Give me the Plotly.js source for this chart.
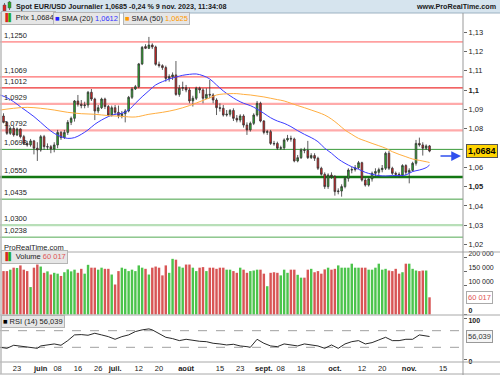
<!DOCTYPE html>
<html><head><meta charset="utf-8">
<script src="https://cdn.plot.ly/plotly-3.0.1.min.js"></script>
<style>html,body{margin:0;padding:0;background:#fff;}#chart{width:500px;height:375px;}</style>
</head><body><div id="chart"></div>
<script>
// ---------- DATA ----------
const startDate = '2023-05-17'; // first daily candle
const openP = [1.0866,1.0833,1.0776,1.0802,1.0768,1.0799,1.0759,1.0724,1.0716,1.0737,
 1.0699,1.0690,1.0759,1.0705,1.0707,1.0695,1.0716,1.0781,1.0754,1.0781,
 1.0833,1.0854,1.0944,1.0927,1.0920,1.0923,1.0989,1.0954,1.0892,1.0909,
 1.0954,1.0915,1.0871,1.0909,1.0885,1.0868,1.0878,1.0892,1.0963,1.1006,
 1.1018,1.1136,1.1226,1.1217,1.1234,1.1224,1.1134,1.1127,1.1117,1.1061,
 1.1070,1.1079,1.0978,1.1010,1.1013,1.1001,1.0944,1.0958,1.1010,1.1001,
 1.0958,1.0978,1.0975,1.0949,1.0909,1.0906,1.0871,1.0875,1.0895,1.0854,
 1.0845,1.0866,1.0819,1.0794,1.0828,1.0871,1.0932,1.0840,1.0781,1.0785,
 1.0724,1.0724,1.0699,1.0701,1.0742,1.0750,1.0747,1.0633,1.0650,1.0690,
 1.0688,1.0650,1.0661,1.0647,1.0595,1.0564,1.0500,1.0560,1.0552,1.0474,
 1.0477,1.0500,1.0543,1.0586,1.0588,1.0598,1.0624,1.0534,1.0508,1.0540,
 1.0569,1.0574,1.0588,1.0595,1.0673,1.0595,1.0569,1.0564,1.0560,1.0609,
 1.0574,1.0584,1.0621,1.0724,1.0716,1.0699,1.0711];
const highP = [1.0880,1.0840,1.0811,1.0816,1.0806,1.0802,1.0768,1.0737,1.0747,1.0742,
 1.0730,1.0768,1.0768,1.0724,1.0716,1.0730,1.0794,1.0788,1.0794,1.0845,
 1.0863,1.0949,1.0975,1.0949,1.0940,1.0996,1.1006,1.0961,1.0923,1.0961,
 1.0961,1.0923,1.0920,1.0923,1.0920,1.0892,1.0902,1.0970,1.1015,1.1027,
 1.1141,1.1229,1.1238,1.1276,1.1243,1.1231,1.1148,1.1134,1.1127,1.1082,
 1.1092,1.1151,1.1027,1.1044,1.1027,1.1013,1.0971,1.1018,1.1018,1.1010,
 1.1010,1.1053,1.0984,1.0958,1.0932,1.0923,1.0897,1.0902,1.0906,1.0871,
 1.0875,1.0875,1.0833,1.0837,1.0880,1.0944,1.0940,1.0845,1.0794,1.0794,
 1.0737,1.0733,1.0712,1.0750,1.0768,1.0764,1.0754,1.0664,1.0699,1.0702,
 1.0737,1.0673,1.0673,1.0655,1.0603,1.0574,1.0569,1.0574,1.0560,1.0491,
 1.0512,1.0552,1.0595,1.0602,1.0612,1.0633,1.0629,1.0546,1.0546,1.0578,
 1.0595,1.0598,1.0612,1.0681,1.0685,1.0603,1.0578,1.0574,1.0616,1.0616,
 1.0595,1.0629,1.0742,1.0754,1.0730,1.0719,1.0716];
const lowP = [1.0828,1.0768,1.0768,1.0759,1.0762,1.0750,1.0716,1.0707,1.0707,1.0667,
 1.0633,1.0681,1.0690,1.0690,1.0673,1.0678,1.0699,1.0742,1.0747,1.0768,
 1.0819,1.0837,1.0915,1.0906,1.0906,1.0909,1.0944,1.0845,1.0880,1.0902,
 1.0902,1.0863,1.0863,1.0871,1.0854,1.0854,1.0833,1.0885,1.0954,1.1001,
 1.1010,1.1130,1.1213,1.1213,1.1213,1.1127,1.1117,1.1105,1.1044,1.1044,
 1.1053,1.0971,1.0966,1.0996,1.0989,1.0932,1.0915,1.0949,1.0984,1.0932,
 1.0954,1.0958,1.0932,1.0871,1.0889,1.0863,1.0863,1.0863,1.0840,1.0833,
 1.0833,1.0806,1.0768,1.0785,1.0819,1.0863,1.0833,1.0771,1.0768,1.0716,
 1.0712,1.0690,1.0690,1.0690,1.0733,1.0733,1.0626,1.0626,1.0643,1.0673,
 1.0643,1.0643,1.0633,1.0586,1.0557,1.0488,1.0488,1.0540,1.0453,1.0460,
 1.0448,1.0491,1.0526,1.0569,1.0578,1.0591,1.0526,1.0500,1.0500,1.0526,
 1.0552,1.0552,1.0574,1.0586,1.0586,1.0560,1.0552,1.0546,1.0552,1.0560,
 1.0517,1.0578,1.0609,1.0707,1.0661,1.0690,1.0678];
const closeP = [1.0833,1.0776,1.0802,1.0768,1.0799,1.0759,1.0724,1.0716,1.0737,1.0699,
 1.0690,1.0759,1.0707,1.0707,1.0695,1.0716,1.0781,1.0754,1.0781,1.0833,
 1.0854,1.0944,1.0927,1.0920,1.0923,1.0989,1.0954,1.0892,1.0909,1.0954,
 1.0915,1.0871,1.0909,1.0885,1.0868,1.0878,1.0892,1.0963,1.1006,1.1018,
 1.1136,1.1222,1.1217,1.1234,1.1224,1.1134,1.1127,1.1117,1.1061,1.1070,
 1.1079,1.0978,1.1010,1.1013,1.1001,1.0944,1.0958,1.1010,1.1001,1.0958,
 1.0978,1.0975,1.0949,1.0909,1.0906,1.0871,1.0875,1.0895,1.0854,1.0845,
 1.0866,1.0819,1.0794,1.0828,1.0871,1.0932,1.0840,1.0781,1.0785,1.0724,
 1.0722,1.0699,1.0701,1.0742,1.0750,1.0747,1.0633,1.0650,1.0690,1.0688,
 1.0650,1.0661,1.0647,1.0595,1.0564,1.0500,1.0560,1.0552,1.0474,1.0477,
 1.0500,1.0543,1.0586,1.0588,1.0598,1.0624,1.0534,1.0508,1.0540,1.0569,
 1.0578,1.0588,1.0595,1.0673,1.0595,1.0569,1.0564,1.0560,1.0609,1.0574,
 1.0584,1.0621,1.0724,1.0716,1.0699,1.0711,1.0684];
const volume = [152000,152000,157000,164000,163000,172000,157000,152000,96000,164000,
 175000,168000,146000,151000,140000,146000,143000,135000,148000,158000,
 151000,157000,146000,160000,143000,174000,164000,164000,157000,164000,
 160000,160000,140000,105000,152000,164000,160000,152000,157000,152000,
 172000,164000,160000,140000,164000,168000,164000,137000,172000,146000,
 195000,192000,168000,164000,175000,175000,164000,152000,164000,166000,
 152000,164000,164000,160000,164000,164000,157000,157000,152000,146000,
 164000,157000,146000,152000,154000,157000,157000,143000,99000,146000,
 148000,146000,137000,157000,146000,157000,157000,139000,129000,129000,
 157000,160000,148000,152000,143000,158000,164000,157000,160000,172000,
 164000,164000,164000,178000,164000,164000,164000,164000,157000,157000,
 164000,178000,157000,160000,154000,152000,160000,143000,148000,178000,
 178000,160000,154000,152000,154000,154000,60017];
// SMA readings (candle index, value)
const sma20Idx = [-1,1,3,5,7,9,11,13,15,17,19,21,23,25,27,29,31,33,35,37,39,41,43,45,47,49,51,53,55,57,59,61,63,65,67,69,71,73,75,77,79,81,83,85,87,89,91,93,95,97,99,101,103,105,107,109,111,113,115,117,119,121,123,125,126];
const sma20 = [1.0975,1.0961,1.0940,1.0914,1.0889,1.0863,1.0833,1.0802,1.0776,1.0759,1.0750,1.0754,1.0771,1.0794,1.0823,1.0845,1.0863,1.0875,1.0880,1.0897,1.0932,1.0966,1.0997,1.1027,1.1044,1.1058,1.1068,1.1077,1.1082,1.1084,1.1075,1.1058,1.1027,1.0996,1.0971,1.0949,1.0932,1.0920,1.0902,1.0880,1.0857,1.0840,1.0828,1.0811,1.0790,1.0771,1.0754,1.0733,1.0699,1.0673,1.0643,1.0621,1.0603,1.0590,1.0574,1.0564,1.0557,1.0555,1.0557,1.0557,1.0560,1.0578,1.0586,1.0598,1.0612];
const sma50Idx = [-1,3,7,11,15,19,23,27,31,35,39,43,47,51,55,59,61,63,65,67,69,71,73,75,77,79,81,83,85,87,89,91,93,95,97,99,101,103,105,107,109,111,113,115,117,119,121,123,125,126];
const sma50 = [1.0897,1.0906,1.0911,1.0906,1.0897,1.0885,1.0878,1.0875,1.0868,1.0864,1.0861,1.0875,1.0885,1.0899,1.0920,1.0947,1.0960,1.0975,1.0980,1.0982,1.0982,1.0978,1.0975,1.0970,1.0965,1.0958,1.0951,1.0944,1.0932,1.0920,1.0909,1.0897,1.0885,1.0871,1.0850,1.0823,1.0793,1.0771,1.0750,1.0737,1.0724,1.0712,1.0699,1.0681,1.0667,1.0655,1.0643,1.0636,1.0629,1.0625];
const rsiIdx = [-1,1,3,5,7,9,10,11,13,15,17,19,21,23,25,27,29,31,33,35,37,39,41,43,44,46,48,50,52,54,56,58,60,62,64,66,68,70,72,73,75,77,79,81,83,85,87,89,91,93,95,97,99,101,103,105,107,109,111,113,115,117,119,121,123,125,126];
const rsi = [30.0,27.6,34.9,33.3,31.6,30.0,27.6,33.3,35.7,38.1,34.9,46.1,59.8,60.6,59.0,63.8,59.8,55.7,49.3,55.7,59.8,67.9,71.9,74.3,71.9,63.8,54.1,50.9,46.1,49.3,46.1,44.5,43.6,39.7,38.1,35.7,37.3,33.3,31.6,30.0,49.3,39.7,33.3,31.6,38.1,35.7,33.3,38.1,35.7,33.3,27.6,35.7,27.6,38.1,43.6,46.1,38.1,41.3,47.7,54.1,46.1,46.1,49.3,49.3,59.8,58.2,56.039];
const levels = [1.1250,1.1069,1.1012,1.0929,1.0792,1.0693,1.0550,1.0435,1.0300,1.0238];
const rsiLevels = [70, 30];
const priceTicks = [1.02,1.03,1.04,1.05,1.06,1.08,1.09,1.10,1.11,1.12,1.13];
const volTicks = [0,100000,150000,200000];
const rsiTicks = [0,100];
const tickDates = ['2023-05-23','2023-06-01','2023-06-08','2023-06-16','2023-06-26','2023-07-03','2023-07-12','2023-07-20','2023-08-01','2023-08-15','2023-08-23','2023-09-01','2023-09-08','2023-09-18','2023-10-02','2023-10-12','2023-10-20','2023-11-01','2023-11-15'];
const tickText = ['23','<b>juin</b>','08','16','26','<b>juil.</b>','12','20','<b>août</b>','15','23','<b>sept.</b>','08','18','<b>oct.</b>','12','20','<b>nov.</b>','15'];

// ---------- STYLES ----------
const levelStyles = [
 {c:'#ff5a5a',w:1},{c:'#ff6e6e',w:1.3},{c:'#ee3030',w:1.3},{c:'#ffaaaa',w:2.2},{c:'#ffaaaa',w:2.2},
 {c:'#3a9a3a',w:1},{c:'#137713',w:2.5},{c:'#44a044',w:1},{c:'#b8dfb8',w:2.2},{c:'#55aa55',w:1}];

// trading days (weekdays) from start date
const days = [];
{ let d = new Date(startDate + 'T00:00:00Z');
  while (days.length < 150) { const wd = d.getUTCDay(); if (wd !== 0 && wd !== 6) days.push(d.toISOString().slice(0,10)); d.setUTCDate(d.getUTCDate()+1); } }
const idx = openP.map((_, i) => i);
const tickVals = tickDates.map(s => days.indexOf(s));

const fmt = (v, d) => v.toFixed(d).replace('.', ',');
const fmtVol = v => String(Math.round(v)).replace(/\B(?=(\d{3})+(?!\d))/g, ' ');
const n = closeP.length - 1;

// pixel helpers for layout placement (plot area: x 0..463, y 13..362)
const px = x => x / 463;
const py = y => (362 - y) / 349;

const FONT = 'Liberation Sans, Arial, sans-serif';
const traces = [
 {type:'scatter', mode:'lines', x:sma20Idx, y:sma20, line:{color:'#3b3bff', width:1, shape:'spline'}, yaxis:'y', hoverinfo:'skip'},
 {type:'scatter', mode:'lines', x:sma50Idx, y:sma50, line:{color:'#ffae40', width:1, shape:'spline'}, yaxis:'y', hoverinfo:'skip'},
 {type:'candlestick', x:idx, open:openP, high:highP, low:lowP, close:closeP, yaxis:'y',
  increasing:{line:{color:'#333', width:0.8}, fillcolor:'#2cb52c'},
  decreasing:{line:{color:'#333', width:0.8}, fillcolor:'#e32222'}, whiskerwidth:0, hoverinfo:'skip'},
 {type:'bar', x:idx, y:volume, yaxis:'y2', width:0.72,
  marker:{color: idx.map(i => closeP[i] >= openP[i] ? '#4cc44c' : '#d85555'), line:{width:0}}, hoverinfo:'skip'},
 {type:'scatter', mode:'lines', x:rsiIdx, y:rsi, yaxis:'y3', line:{color:'#111', width:0.9}, hoverinfo:'skip'}
];

const shapes = [];
// header bar
shapes.push({type:'rect', xref:'paper', yref:'paper', x0:px(0), x1:px(500), y0:py(13), y1:py(0), fillcolor:'#d6e4ee', line:{width:0}, layer:'below'});
shapes.push({type:'line', xref:'paper', yref:'paper', x0:px(0), x1:px(500), y0:py(13), y1:py(13), line:{color:'#9db2c2', width:1}});
// panel separators
[252, 315, 362, 374].forEach(y => shapes.push({type:'line', xref:'paper', yref:'paper', x0:px(0), x1:px(500), y0:py(y), y1:py(y), line:{color:'#a8a8a8', width:1}}));
shapes.push({type:'line', xref:'paper', yref:'paper', x0:px(463), x1:px(463), y0:py(13), y1:py(375), line:{color:'#999', width:1}});
shapes.push({type:'line', xref:'paper', yref:'paper', x0:px(1), x1:px(1), y0:py(13), y1:py(374), line:{color:'#bbb', width:1.5}});
// support / resistance levels
levels.forEach((v, k) => shapes.push({type:'line', xref:'paper', yref:'y', x0:0, x1:1, y0:v, y1:v, line:{color:levelStyles[k].c, width:levelStyles[k].w}, layer:'below'}));
// RSI bands
rsiLevels.forEach(v => shapes.push({type:'line', xref:'paper', yref:'y3', x0:0, x1:1, y0:v, y1:v, line:{color:'#888', width:0.8, dash:'dash'}, layer:'below'}));
// header candle icon
shapes.push({type:'line', xref:'paper', yref:'paper', x0:px(4.5), x1:px(4.5), y0:py(12), y1:py(3), line:{color:'#555', width:0.8}});
shapes.push({type:'rect', xref:'paper', yref:'paper', x0:px(3), x1:px(6), y0:py(11), y1:py(5), fillcolor:'#e02020', line:{color:'#555', width:0.5}});
shapes.push({type:'line', xref:'paper', yref:'paper', x0:px(9.5), x1:px(9.5), y0:py(10), y1:py(1), line:{color:'#555', width:0.8}});
shapes.push({type:'rect', xref:'paper', yref:'paper', x0:px(8), x1:px(11), y0:py(8), y1:py(2), fillcolor:'#22aa22', line:{color:'#555', width:0.5}});

const annotations = [];
const A = o => annotations.push(Object.assign({showarrow:false, xref:'paper', yref:'paper', font:{family:FONT, size:7.5, color:'#222'}}, o));
A({x:px(14), y:py(6.5), xanchor:'left', yanchor:'middle', text:'<b>Spot EUR/USD Journalier 1,0685 -0,24 % 9 nov. 2023, 11:34:08</b>', font:{family:FONT, size:7.2, color:'#1a1a1a'}});
A({x:px(498), y:py(6.5), xanchor:'right', yanchor:'middle', text:'<b>www.ProRealTime.com</b>', font:{family:FONT, size:7.2, color:'#1a1a1a'}});
const box = {bgcolor:'#e6e6e6', bordercolor:'#b5b5b5', borderwidth:1, borderpad:1, xanchor:'left', yanchor:'middle'};
A(Object.assign({}, box, {x:px(1), y:py(18.5), text:"<span style='color:#dd2222'>▐</span><span style='color:#22aa22'>▌</span> Prix " + fmt(closeP[n],4)}));
A(Object.assign({}, box, {x:px(53), y:py(18.5), text:"<span style='color:#2222ff'>■</span> SMA (20) <span style='color:#3333ff'>" + fmt(sma20[sma20.length-1],4) + "</span>"}));
A(Object.assign({}, box, {x:px(123), y:py(18.5), text:"<span style='color:#ff9900'>■</span> SMA (50) <span style='color:#ff9900'>" + fmt(sma50[sma50.length-1],4) + "</span>"}));
A(Object.assign({}, box, {x:px(1), y:py(257), text:"<span style='color:#dd2222'>▐</span><span style='color:#22aa22'>▌</span> Volume <span style='color:#e05555'>" + fmtVol(volume[n]) + "</span>"}));
A(Object.assign({}, box, {x:px(1), y:py(321), text:"<span style='color:#000'>■</span> RSI (14) " + fmt(rsi[rsi.length-1],3)}));
A({x:px(2), y:py(247), xanchor:'left', yanchor:'middle', text:'ProRealTime.com', font:{family:FONT, size:7.5, color:'#222'}});
// level labels
levels.forEach(v => A({x:0, xshift:2, xanchor:'left', yref:'y', y:v, yanchor:'bottom', yshift:0, text:fmt(v,4), font:{family:FONT, size:7.5, color:'#222'}}));
// last value boxes
A({x:px(466), xanchor:'left', yref:'y', y:closeP[n], yanchor:'middle', text:'<b>' + fmt(closeP[n],4) + '</b>', bgcolor:'#ffd400', bordercolor:'#555', borderwidth:1, borderpad:1, font:{family:FONT, size:9, color:'#000'}});
A({x:px(466), xanchor:'left', yref:'y2', y:volume[n], yanchor:'middle', text:fmtVol(volume[n]), bgcolor:'#fff', bordercolor:'#aaa', borderwidth:1, borderpad:1, font:{family:FONT, size:7.5, color:'#e05555'}});
A({x:px(466), xanchor:'left', yref:'y3', y:rsi[rsi.length-1], yanchor:'middle', text:fmt(rsi[rsi.length-1],3), bgcolor:'#f6f6f6', bordercolor:'#999', borderwidth:1, borderpad:1, font:{family:FONT, size:7.5, color:'#333'}});
// arrow to last price
annotations.push({xref:'paper', yref:'paper', x:px(461), y:py(156), ax:-22, ay:0, showarrow:true, arrowhead:2, arrowsize:1.3, arrowwidth:1.5, arrowcolor:'#3050ee', text:''});

const axBase = {showgrid:false, zeroline:false, showline:false, fixedrange:true, tickfont:{family:FONT, size:7.5, color:'#222'}};
const smallTick = {family:FONT, size:7, color:'#222'};
const priceTickText = priceTicks.map(v => (Math.abs(v-1.10) < 1e-9 ? '<b>1,1</b>' : Math.abs(v-1.05) < 1e-9 ? '<b>1,05</b>' : fmt(v,2)));
const layout = {
  width:500, height:375, margin:{l:0, r:37, t:13, b:13, pad:0}, showlegend:false,
  paper_bgcolor:'#fff', plot_bgcolor:'#fff', font:{family:FONT, size:7.5, color:'#222'},
  xaxis: Object.assign({}, axBase, {range:[-1.04, 135.9], anchor:'y3', tickvals:tickVals, ticktext:tickText, ticks:'', rangeslider:{visible:false}}),
  yaxis: Object.assign({}, axBase, {domain:[py(252), 1], range:[1.0161, 1.1400], side:'right', anchor:'x', tickvals:priceTicks, ticktext:priceTickText, ticks:'outside', ticklen:3, tickcolor:'#666'}),
  yaxis2: Object.assign({}, axBase, {domain:[py(315), py(252)], range:[-2000, 219000], side:'right', anchor:'x', tickvals:volTicks, ticktext:volTicks.map(v => v === 0 ? '<b>0</b>' : fmtVol(v)), ticks:'outside', ticklen:3, tickcolor:'#666', ticklabelshift:-4, tickfont:smallTick}),
  yaxis3: Object.assign({}, axBase, {domain:[0, py(315)], range:[-5.3, 107.7], side:'right', anchor:'x', tickvals:rsiTicks, ticktext:rsiTicks.map(v => '<b>' + v + '</b>'), ticks:'outside', ticklen:3, tickcolor:'#666', ticklabelshift:2, tickfont:smallTick}),
  shapes, annotations, bargap:0.2
};
Plotly.newPlot('chart', traces, layout, {staticPlot:true, displayModeBar:false});
</script></body></html>
